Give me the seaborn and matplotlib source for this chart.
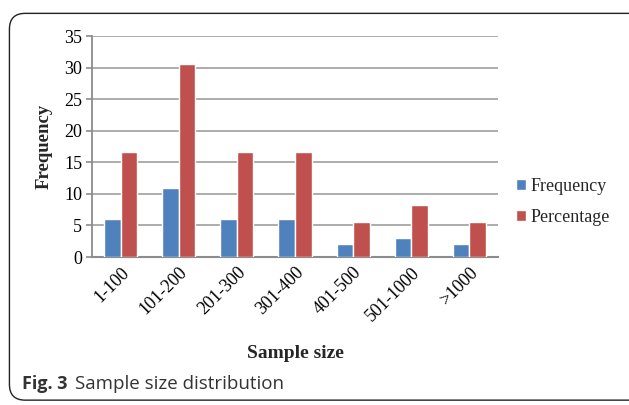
import matplotlib
matplotlib.use("Agg")
import matplotlib.pyplot as plt
from matplotlib.patches import FancyBboxPatch
import seaborn as sns
import pandas as pd

categories = ["1-100", "101-200", "201-300", "301-400", "401-500", "501-1000", ">1000"]
frequency = [6, 11, 6, 6, 2, 3, 2]
percentage = [16.7, 30.6, 16.7, 16.7, 5.6, 8.3, 5.6]
yticks = [0, 5, 10, 15, 20, 25, 30, 35]

df = pd.DataFrame({
    "Sample size": categories * 2,
    "value": frequency + percentage,
    "series": ["Frequency"] * len(categories) + ["Percentage"] * len(categories),
})

sns.set_theme(style="white")
plt.rcParams["font.family"] = ["Liberation Serif", "DejaVu Serif"]

fig = plt.figure(figsize=(6.29, 4.05), dpi=100)
ax = fig.add_axes([0.146, 0.3654, 0.646, 0.5456])

sns.barplot(data=df, x="Sample size", y="value", hue="series",
            palette=["#4F81BD", "#C0504D"], width=0.57, gap=0,
            saturation=1, ax=ax, legend=True, zorder=3)

ax.set_ylim(0, 35)
ax.set_yticks(yticks)
ax.set_xlim(-0.5, len(categories) - 0.5)
ax.yaxis.grid(True, color="#A6A6A6", linewidth=1.3, zorder=0)
ax.set_axisbelow(True)
for side in ["top", "right"]:
    ax.spines[side].set_visible(False)
ax.spines["left"].set_color("#8C8C8C")
ax.spines["left"].set_linewidth(1.3)
ax.spines["bottom"].set_color("#8C8C8C")
ax.spines["bottom"].set_linewidth(1.5)

ax.tick_params(axis="y", labelsize=13, length=4, width=1.2, color="#8C8C8C",
               left=True, pad=3, labelcolor="black")
ax.tick_params(axis="x", labelsize=13, length=0, pad=5, labelcolor="black")
plt.setp(ax.get_xticklabels(), rotation=45, ha="right", rotation_mode="anchor")

ax.set_ylabel("Frequency", fontsize=13.5, fontweight="bold", labelpad=8)
ax.set_xlabel("Sample size", fontsize=14, fontweight="bold", labelpad=15)

handles, labels = ax.get_legend_handles_labels()
ax.legend(handles, labels, loc="center left", bbox_to_anchor=(1.005, 0.25),
          frameon=False, fontsize=13, handlelength=0.55, handleheight=0.55,
          handletextpad=0.25, labelspacing=0.75)

frame = FancyBboxPatch((0.015, 0.012), 1.2, 0.955, transform=fig.transFigure,
                       boxstyle="round,pad=0,rounding_size=0.025",
                       facecolor="none", edgecolor="#222222", linewidth=1.0,
                       mutation_aspect=629 / 405)
fig.patches.append(frame)

fig.text(0.035, 0.04, "Fig. 3", fontsize=13, fontweight="bold",
         family=["Open Sans", "DejaVu Sans"], color="#333333")
fig.text(0.119, 0.04, "Sample size distribution", fontsize=13.5,
         family=["Open Sans", "DejaVu Sans"], color="#333333")

fig.savefig("out.png", dpi=100)
